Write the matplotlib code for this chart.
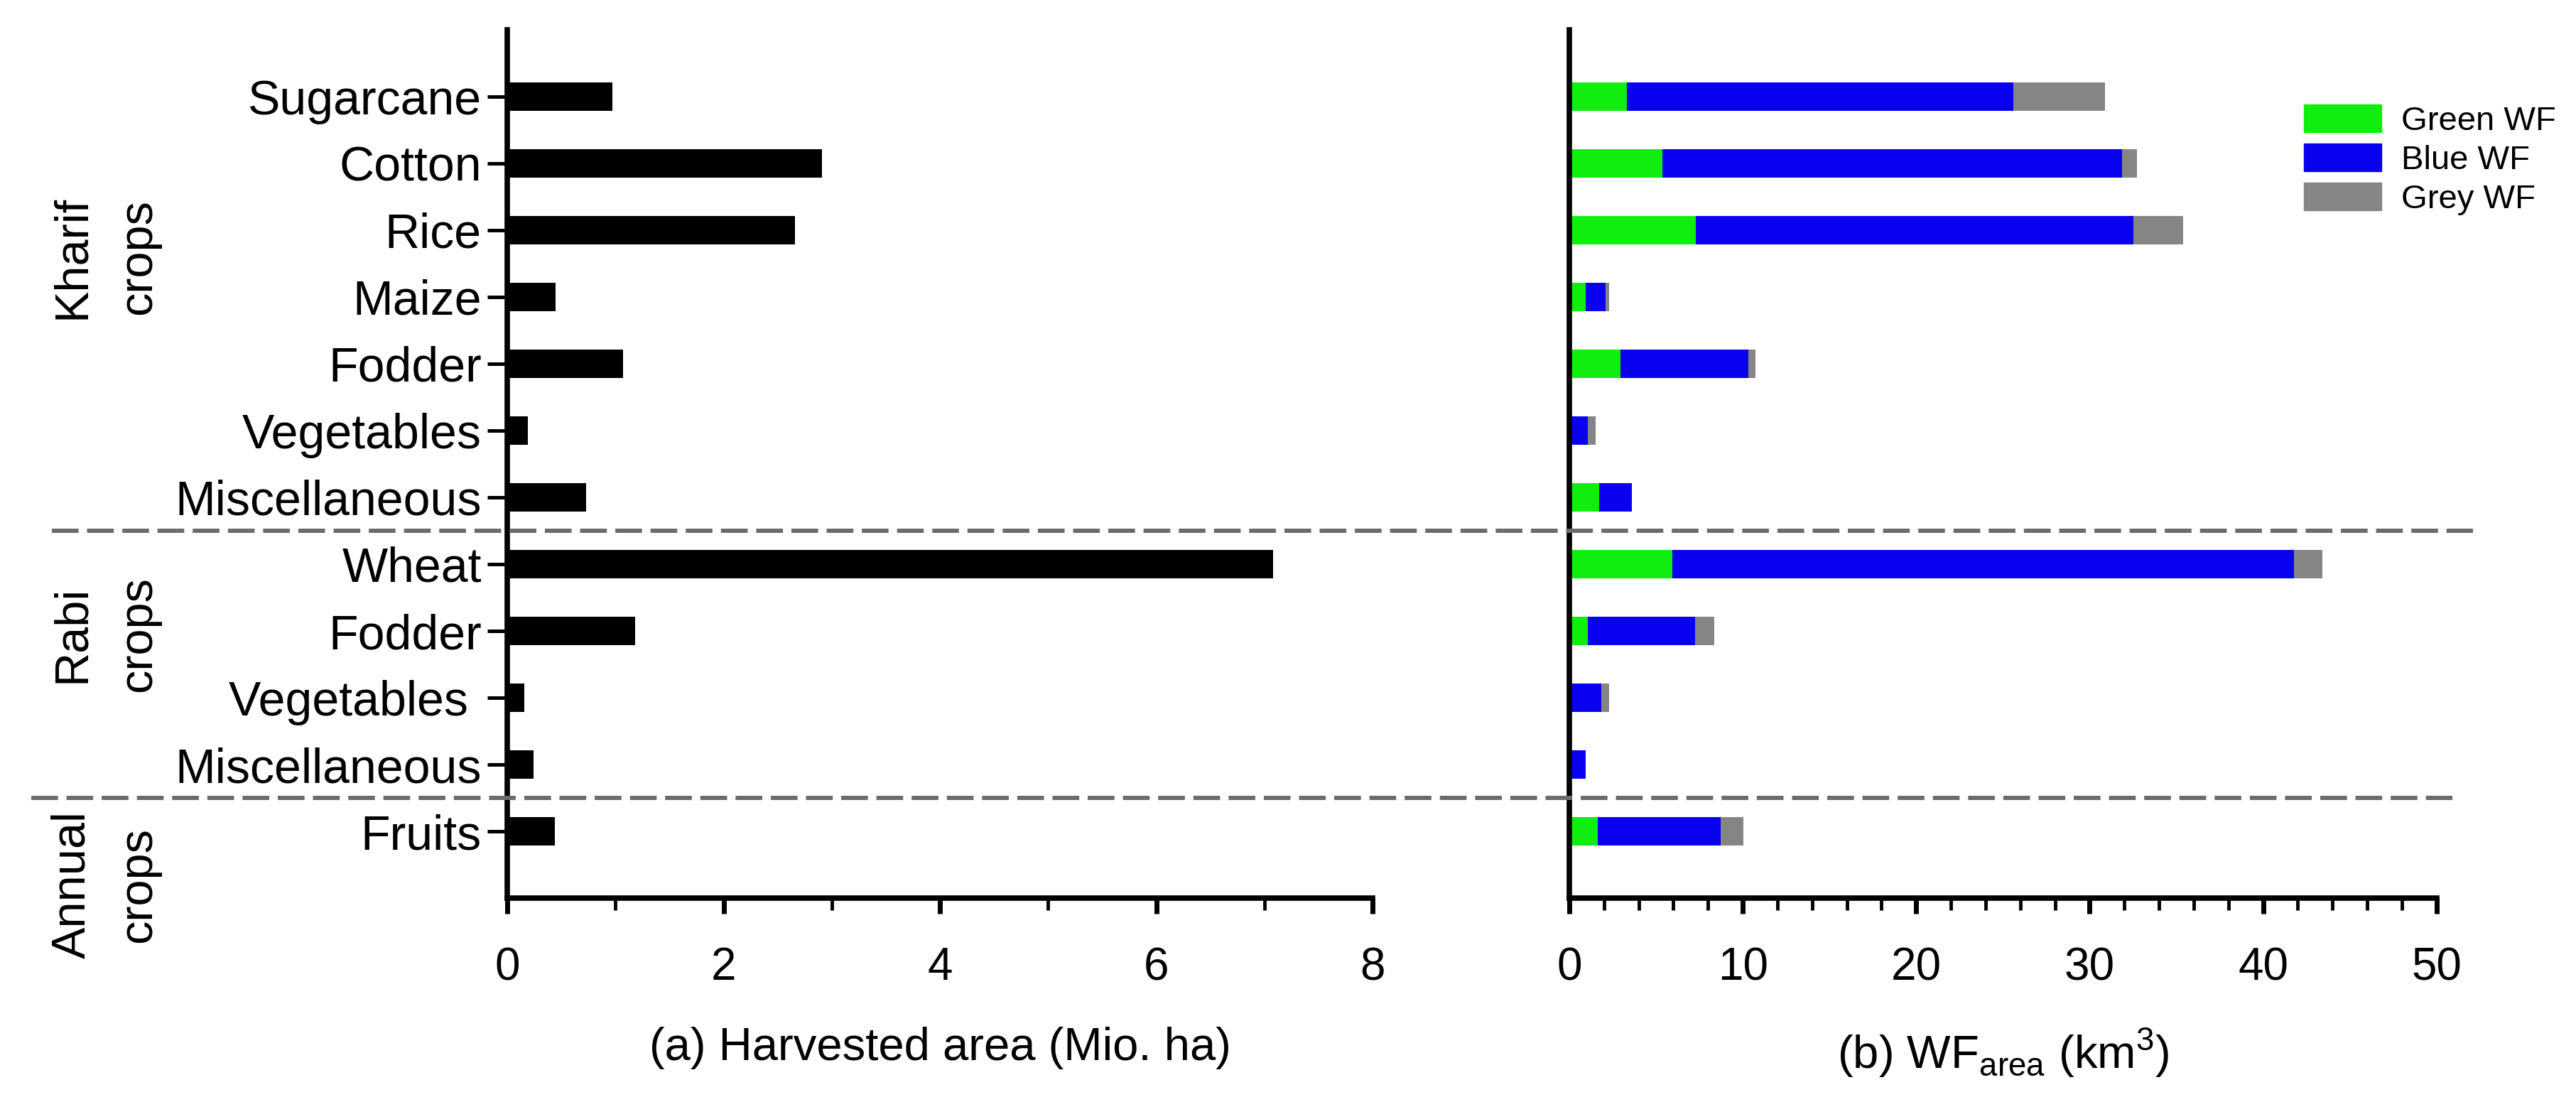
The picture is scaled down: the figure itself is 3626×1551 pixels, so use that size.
import matplotlib
matplotlib.use('Agg')
import numpy as np
import matplotlib.pyplot as plt
from matplotlib.patches import Patch
from matplotlib.lines import Line2D
from matplotlib import transforms
from matplotlib.ticker import MultipleLocator

plt.rcParams['font.family'] = ['Liberation Sans', 'DejaVu Sans']

# crops, top to bottom
crops = ['Sugarcane', 'Cotton', 'Rice', 'Maize', 'Fodder', 'Vegetables',
         'Miscellaneous', 'Wheat', 'Fodder', 'Vegetables ', 'Miscellaneous',
         'Fruits']
# (a) harvested area, Mio. ha
area = [0.97, 2.91, 2.66, 0.45, 1.07, 0.19, 0.73, 7.08, 1.18, 0.16, 0.24, 0.44]
# (b) WF_area, km3
green_wf = [3.3, 5.35, 7.28, 0.95, 2.95, 0.0, 1.71, 5.92, 1.06, 0.0, 0.0, 1.63]
blue_wf = [22.3, 26.5, 25.24, 1.13, 7.37, 1.06, 1.89, 35.85, 6.21, 1.85, 0.93, 7.11]
grey_wf = [5.3, 0.88, 2.88, 0.21, 0.4, 0.44, 0.0, 1.63, 1.1, 0.44, 0.0, 1.31]

groups = ['Kharif\ncrops', 'Rabi\ncrops', 'Annual\ncrops']
group_centers = [2.4, 8.05, 11.8]
group_breaks = [6.5, 10.5]

y = np.arange(len(crops))
fs = 46
bh = 0.42

fig = plt.figure(figsize=(36.26, 15.51), dpi=100)
ax1 = fig.add_axes([0.1969, 0.185, 0.336, 0.788])
ax2 = fig.add_axes([0.6092, 0.185, 0.3367, 0.788])

ax1.barh(y, area, height=bh, color='black')

g = np.array(green_wf)
b = np.array(blue_wf)
r = np.array(grey_wf)
ax2.barh(y, g, height=bh, color='#10EE10', label='Green WF')
ax2.barh(y, b, left=g, height=bh, color='#0A00F0', label='Blue WF')
ax2.barh(y, r, left=g + b, height=bh, color='#858585', label='Grey WF')

for ax in (ax1, ax2):
    ax.set_ylim(12, -1)
    for s in ('top', 'right'):
        ax.spines[s].set_visible(False)
    for s in ('left', 'bottom'):
        ax.spines[s].set_linewidth(5.5)
    ax.tick_params(axis='x', which='major', length=16, width=5, pad=33,
                   labelsize=fs)
    ax.tick_params(axis='x', which='minor', length=12, width=3.5)

ax1.set_xlim(0, 8)
ax1.xaxis.set_major_locator(MultipleLocator(2))
ax1.xaxis.set_minor_locator(MultipleLocator(1))
ax1.set_yticks(y)
ax1.set_yticklabels(crops)
ax1.tick_params(axis='y', length=20, width=3.6, pad=6, labelsize=49)

ax2.set_xlim(0, 50)
ax2.xaxis.set_major_locator(MultipleLocator(10))
ax2.xaxis.set_minor_locator(MultipleLocator(2))
ax2.set_yticks([])

ax1.set_xlabel('(a) Harvested area (Mio. ha)', fontsize=47, labelpad=38)
ax2.set_xlabel(r'(b) WF$_{\mathregular{area}}$ (km$^{\mathregular{3}}$)',
               fontsize=47, labelpad=38)

# group labels on the left
tr = transforms.blended_transform_factory(fig.transFigure, ax1.transData)
for lab, yc in zip(groups, group_centers):
    fig.text(0.041, yc, lab, transform=tr, rotation=90, ha='center',
             va='center', fontsize=48, linespacing=1.65)

# dashed separators across both panels
for yb, x0, x1 in zip(group_breaks, [0.020, 0.012], [0.960, 0.952]):
    fig.add_artist(Line2D([x0, x1], [yb, yb], transform=tr, color='#6b6b6b',
                          lw=4.3, ls=(0, (6.3, 2.0)), clip_on=False))

handles = [Patch(color='#10EE10'), Patch(color='#0A00F0'), Patch(color='#858585')]
fig.legend(handles, ['Green WF', 'Blue WF', 'Grey WF'], loc='upper left',
           bbox_to_anchor=(0.8944, 0.905), frameon=False, fontsize=34,
           handlelength=2.3, handleheight=0.88, labelspacing=0.2,
           handletextpad=0.6, borderpad=0, borderaxespad=0)

plt.savefig('out.png', dpi=100)
